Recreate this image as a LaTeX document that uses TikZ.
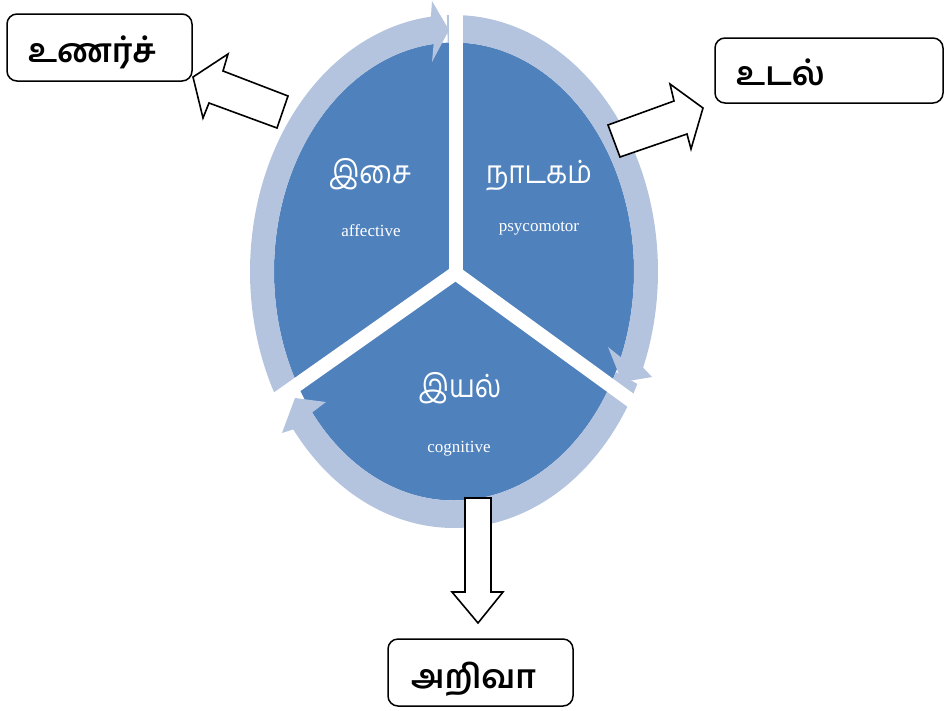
\documentclass[tikz,border=0pt]{standalone}
\usepackage{fontspec}
\setmainfont{Liberation Serif}
\newfontfamily\tamil[Script=Tamil]{Hind Madurai}
\newfontfamily\tamilnarrow[Script=Tamil,FakeStretch=0.86]{Hind Madurai}
\definecolor{darkblue}{RGB}{79,129,189}
\definecolor{lightblue}{RGB}{180,196,222}
\begin{document}
\begin{tikzpicture}[x=1pt,y=-1pt,
  ringseg/.style={fill=lightblue, draw=none},
  sepband/.style={draw=white, line width=14pt, line cap=round},
  lblbox/.style={draw=black, line width=1.5pt, rounded corners=10pt, fill=white, inner sep=0pt},
  blockarrow/.style={draw=black, line width=1.6pt, fill=white, line join=miter},
  tamw/.style={font=\tamilnarrow\fontsize{32}{38}\selectfont, text=white, inner sep=0pt},
  engw/.style={font=\fontsize{17}{20}\selectfont, text=white, inner sep=0pt},
  boxtxt/.style={font=\tamil\bfseries\fontsize{33}{38}\selectfont, text=black, inner sep=0pt}]
\useasboundingbox (0,0) rectangle (944,710);

% dark disc
\fill[darkblue] (454,271.5) ellipse [x radius=180pt, y radius=229pt];

% ring segments with arrowheads
\fill[ringseg] plot[domain=-92:22,samples=80] ({454+204*cos(\x)},{271.5+256.5*sin(\x)})
  -- (652,377) -- (622,382) -- (608,347)
  -- plot[domain=22:-92,samples=80] ({454+180*cos(\x)},{271.5+229*sin(\x)}) -- cycle;
\fill[ringseg] plot[domain=26:142,samples=80] ({454+204*cos(\x)},{271.5+256.5*sin(\x)})
  -- (282,433) -- (295,398) -- (326,402)
  -- plot[domain=142:26,samples=80] ({454+180*cos(\x)},{271.5+229*sin(\x)}) -- cycle;
\fill[ringseg] plot[domain=150:263.5,samples=80] ({454+204*cos(\x)},{271.5+256.5*sin(\x)})
  -- (432,1) -- (449,30) -- (432,62)
  -- plot[domain=263.5:150,samples=80] ({454+180*cos(\x)},{271.5+229*sin(\x)}) -- cycle;

% white separators
\coordinate (yc) at (455.5,273);
\coordinate (ytop) at (455.5,-5);
\coordinate (yleft) at ({455.5+260*cos(144.8)},{273+260*sin(144.8)});
\coordinate (yright) at ({455.5+260*cos(36)},{273+260*sin(36)});
\draw[sepband] (yc) -- (ytop);
\draw[sepband] (yc) -- (yleft);
\draw[sepband] (yc) -- (yright);

% segment labels
\node[tamw, anchor=base] (isai) at (370,183) {இசை};
\node[engw, anchor=base] (aff) at (371,236) {affective};
\node[tamw, anchor=base] (natakam) at (539,183) {நாடகம்};
\node[engw, anchor=base] (psy) at (539,231) {psycomotor};
\node[tamw, anchor=base] (iyal) at (460,397) {இயல்};
\node[engw, anchor=base] (cog) at (459,452) {cognitive};

% label boxes
\node[lblbox, minimum width=185pt, minimum height=67pt] (b1) at (99.5,47.5) {};
\node[lblbox, minimum width=228pt, minimum height=65pt] (b2) at (829,70.5) {};
\node[lblbox, minimum width=185pt, minimum height=67pt] (b3) at (480.5,672.5) {};
\node[boxtxt, anchor=base west] (t1) at (28,62) {உணர்ச்};
\node[boxtxt, anchor=base west] (t2) at (736,85) {உடல்};
\node[boxtxt, anchor=base west] (t3) at (411,688) {அறிவா};

% block arrows
\draw[blockarrow] (193,77) -- (228,54) -- (223,71) -- (288,96) -- (277,128) -- (209,103) -- (203,118) -- cycle;
\draw[blockarrow] (608,125) -- (620,157) -- (687,134) -- (691,149) -- (703,108) -- (670,84) -- (674,101) -- cycle;
\draw[blockarrow] (465,498) -- (491,498) -- (491,592) -- (503,592) -- (478,623) -- (452,592) -- (465,592) -- cycle;
\end{tikzpicture}
\end{document}
